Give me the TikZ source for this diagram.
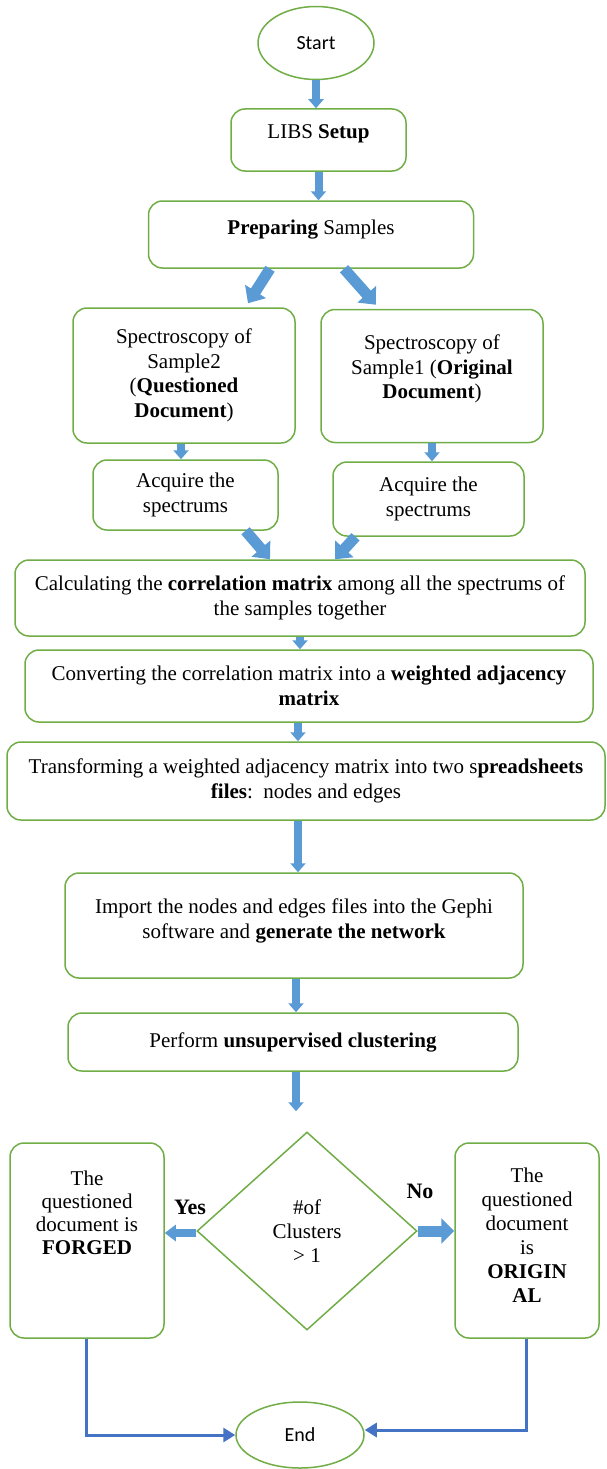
\documentclass[tikz,border=0pt]{standalone}
\usepackage{fontspec}
\setmainfont{Liberation Serif}
\newfontfamily\calfont{Carlito}
\usetikzlibrary{arrows.meta,shapes.geometric,calc}
\definecolor{boxgreen}{RGB}{112,173,71}
\definecolor{arrowblue}{RGB}{91,155,213}
\definecolor{lineblue}{RGB}{68,114,196}

\begin{document}
\begin{tikzpicture}[x=1pt,y=-1pt,
  box/.style={draw=boxgreen, line width=1.5pt, rounded corners=14pt, align=center,
              inner sep=0pt, font=\fontsize{21}{24.5}\selectfont},
  lift/.style={text depth=#1},
  oval/.style={draw=boxgreen, line width=1.5pt, ellipse, inner sep=0pt,
               font=\calfont\fontsize{20}{24}\selectfont},
  decision/.style={draw=boxgreen, line width=1.5pt, diamond, inner sep=0pt, align=center,
                   font=\fontsize{21}{24}\selectfont},
  txt/.style={align=center, inner sep=0pt, font=\fontsize{21}{#1}\selectfont},
  lbl/.style={inner sep=0pt, font=\bfseries\fontsize{22}{26}\selectfont},
  blk/.style={arrowblue, line width=8pt, -{Triangle[width=15pt,length=9pt]}},
  blkmid/.style={arrowblue, line width=8pt, -{Triangle[width=16pt,length=11pt]}},
  blkwide/.style={arrowblue, line width=11pt, -{Triangle[width=25pt,length=13pt]}},
  blkbig/.style={arrowblue, line width=11pt, -{Triangle[width=24pt,length=14pt]}},
  conn/.style={lineblue, line width=3pt, -{Triangle[width=14pt,length=12pt]}}
]
\useasboundingbox (0,0) rectangle (607,1469);

% process steps
\node[oval, minimum width=116pt, minimum height=73pt] (start) at (316,43) {Start};
\node[box, lift=16pt, minimum width=175pt, minimum height=62pt] (libs) at (318.5,140) {LIBS \textbf{Setup}};
\node[box, lift=15pt, minimum width=325pt, minimum height=67pt] (prep) at (311,234.5) {\textbf{Preparing} Samples};
\node[box, minimum width=222pt, minimum height=135pt] (specL) at (184,375.5)
  {Spectroscopy of\\Sample2\\(\textbf{Questioned}\\\textbf{Document})};
\node[box, lift=18pt, minimum width=222pt, minimum height=133pt] (specR) at (432,376)
  {Spectroscopy of\\Sample1 (\textbf{Original}\\\textbf{Document})};
\node[box, minimum width=185pt, minimum height=70pt] (acqL) at (185.5,495) {Acquire the\\spectrums};
\node[box, minimum width=191pt, minimum height=74pt] (acqR) at (428.5,499) {Acquire the\\spectrums};
\node[box, minimum width=570pt, minimum height=76pt] (calc) at (300,598)
  {Calculating the \textbf{correlation matrix} among all the spectrums of\\the samples together};
\node[box, minimum width=568pt, minimum height=72pt] (conv) at (309,686)
  {Converting the correlation matrix into a \textbf{weighted adjacency}\\\textbf{matrix}};
\node[box, minimum width=598pt, minimum height=78pt] (trans) at (306,781)
  {Transforming a weighted adjacency matrix into two s\textbf{preadsheets}\\\textbf{files}:\ \ nodes and edges};
\node[box, lift=14pt, minimum width=458pt, minimum height=105pt] (import) at (294,925.5)
  {Import the nodes and edges files into the Gephi\\software and \textbf{generate the network}};
\node[box, minimum width=450pt, minimum height=58pt] (perform) at (293,1042)
  {Perform \textbf{unsupervised clustering}};

% decision and outcomes
\node[decision, minimum width=220pt, minimum height=198pt] (dec) at (307,1231)
  {\#of\\Clusters\\> 1};
\node[box, minimum width=154pt, minimum height=195pt] (forged) at (87,1240.5) {};
\node[txt=23] (forgedtxt) at (87,1213) {The\\questioned\\document is\\\textbf{FORGED}};
\node[box, minimum width=144pt, minimum height=195pt] (orig) at (527,1240.5) {};
\node[txt=24] (origtxt) at (527,1235) {The\\questioned\\document\\is\\\textbf{ORIGIN}\\\textbf{AL}};
\node[lbl] (yes) at (190,1207) {Yes};
\node[lbl] (no) at (420,1191) {No};
\node[oval, minimum width=128pt, minimum height=66pt] (end) at (300,1435) {End};

% block arrows
\draw[blk] (start.south) -- (start.south |- libs.north);
\draw[blk] (libs.south) -- (libs.south |- prep.north);
\draw[blkbig] ([xshift=-41pt]prep.south) -- ([xshift=64pt,yshift=4pt]specL.north);
\draw[blkbig] ([xshift=33pt]prep.south) -- ([xshift=-56pt,yshift=4pt]specR.north);
\draw[blk] ([xshift=-3pt]specL.south) -- ([xshift=-3pt]specL.south |- acqL.north);
\draw[blk] (specR.south) -- (specR.south |- acqR.north);
\draw[blkbig] ([xshift=60pt]acqL.south) -- ([xshift=-30pt]calc.north);
\draw[blkbig] ([xshift=-73pt]acqR.south) -- ([xshift=35pt]calc.north);
\draw[blk] (calc.south) -- (calc.south |- conv.north);
\draw[blk] ([xshift=-11pt]conv.south) -- ([xshift=-11pt]conv.south |- trans.north);
\draw[blk] ([xshift=-8pt]trans.south) -- ([xshift=-8pt]trans.south |- import.north);
\draw[blk] ([xshift=2pt]import.south) -- ([xshift=2pt]import.south |- perform.north);
\draw[blk] ([xshift=3pt]perform.south) -- ([xshift=3pt,yshift=20pt]perform.south |- dec.north);
\draw[blkmid] ([yshift=-2pt]dec.west) -- ([yshift=-2pt]dec.west -| forged.east);
\draw[blkwide] (dec.east) -- (dec.east -| orig.west);

% connectors to the end
\draw[conn] ([xshift=-1pt]forged.south) |- (end.west);
\draw[conn] ([xshift=-1pt]orig.south) |- ([yshift=5pt]end.east);
\end{tikzpicture}
\end{document}
